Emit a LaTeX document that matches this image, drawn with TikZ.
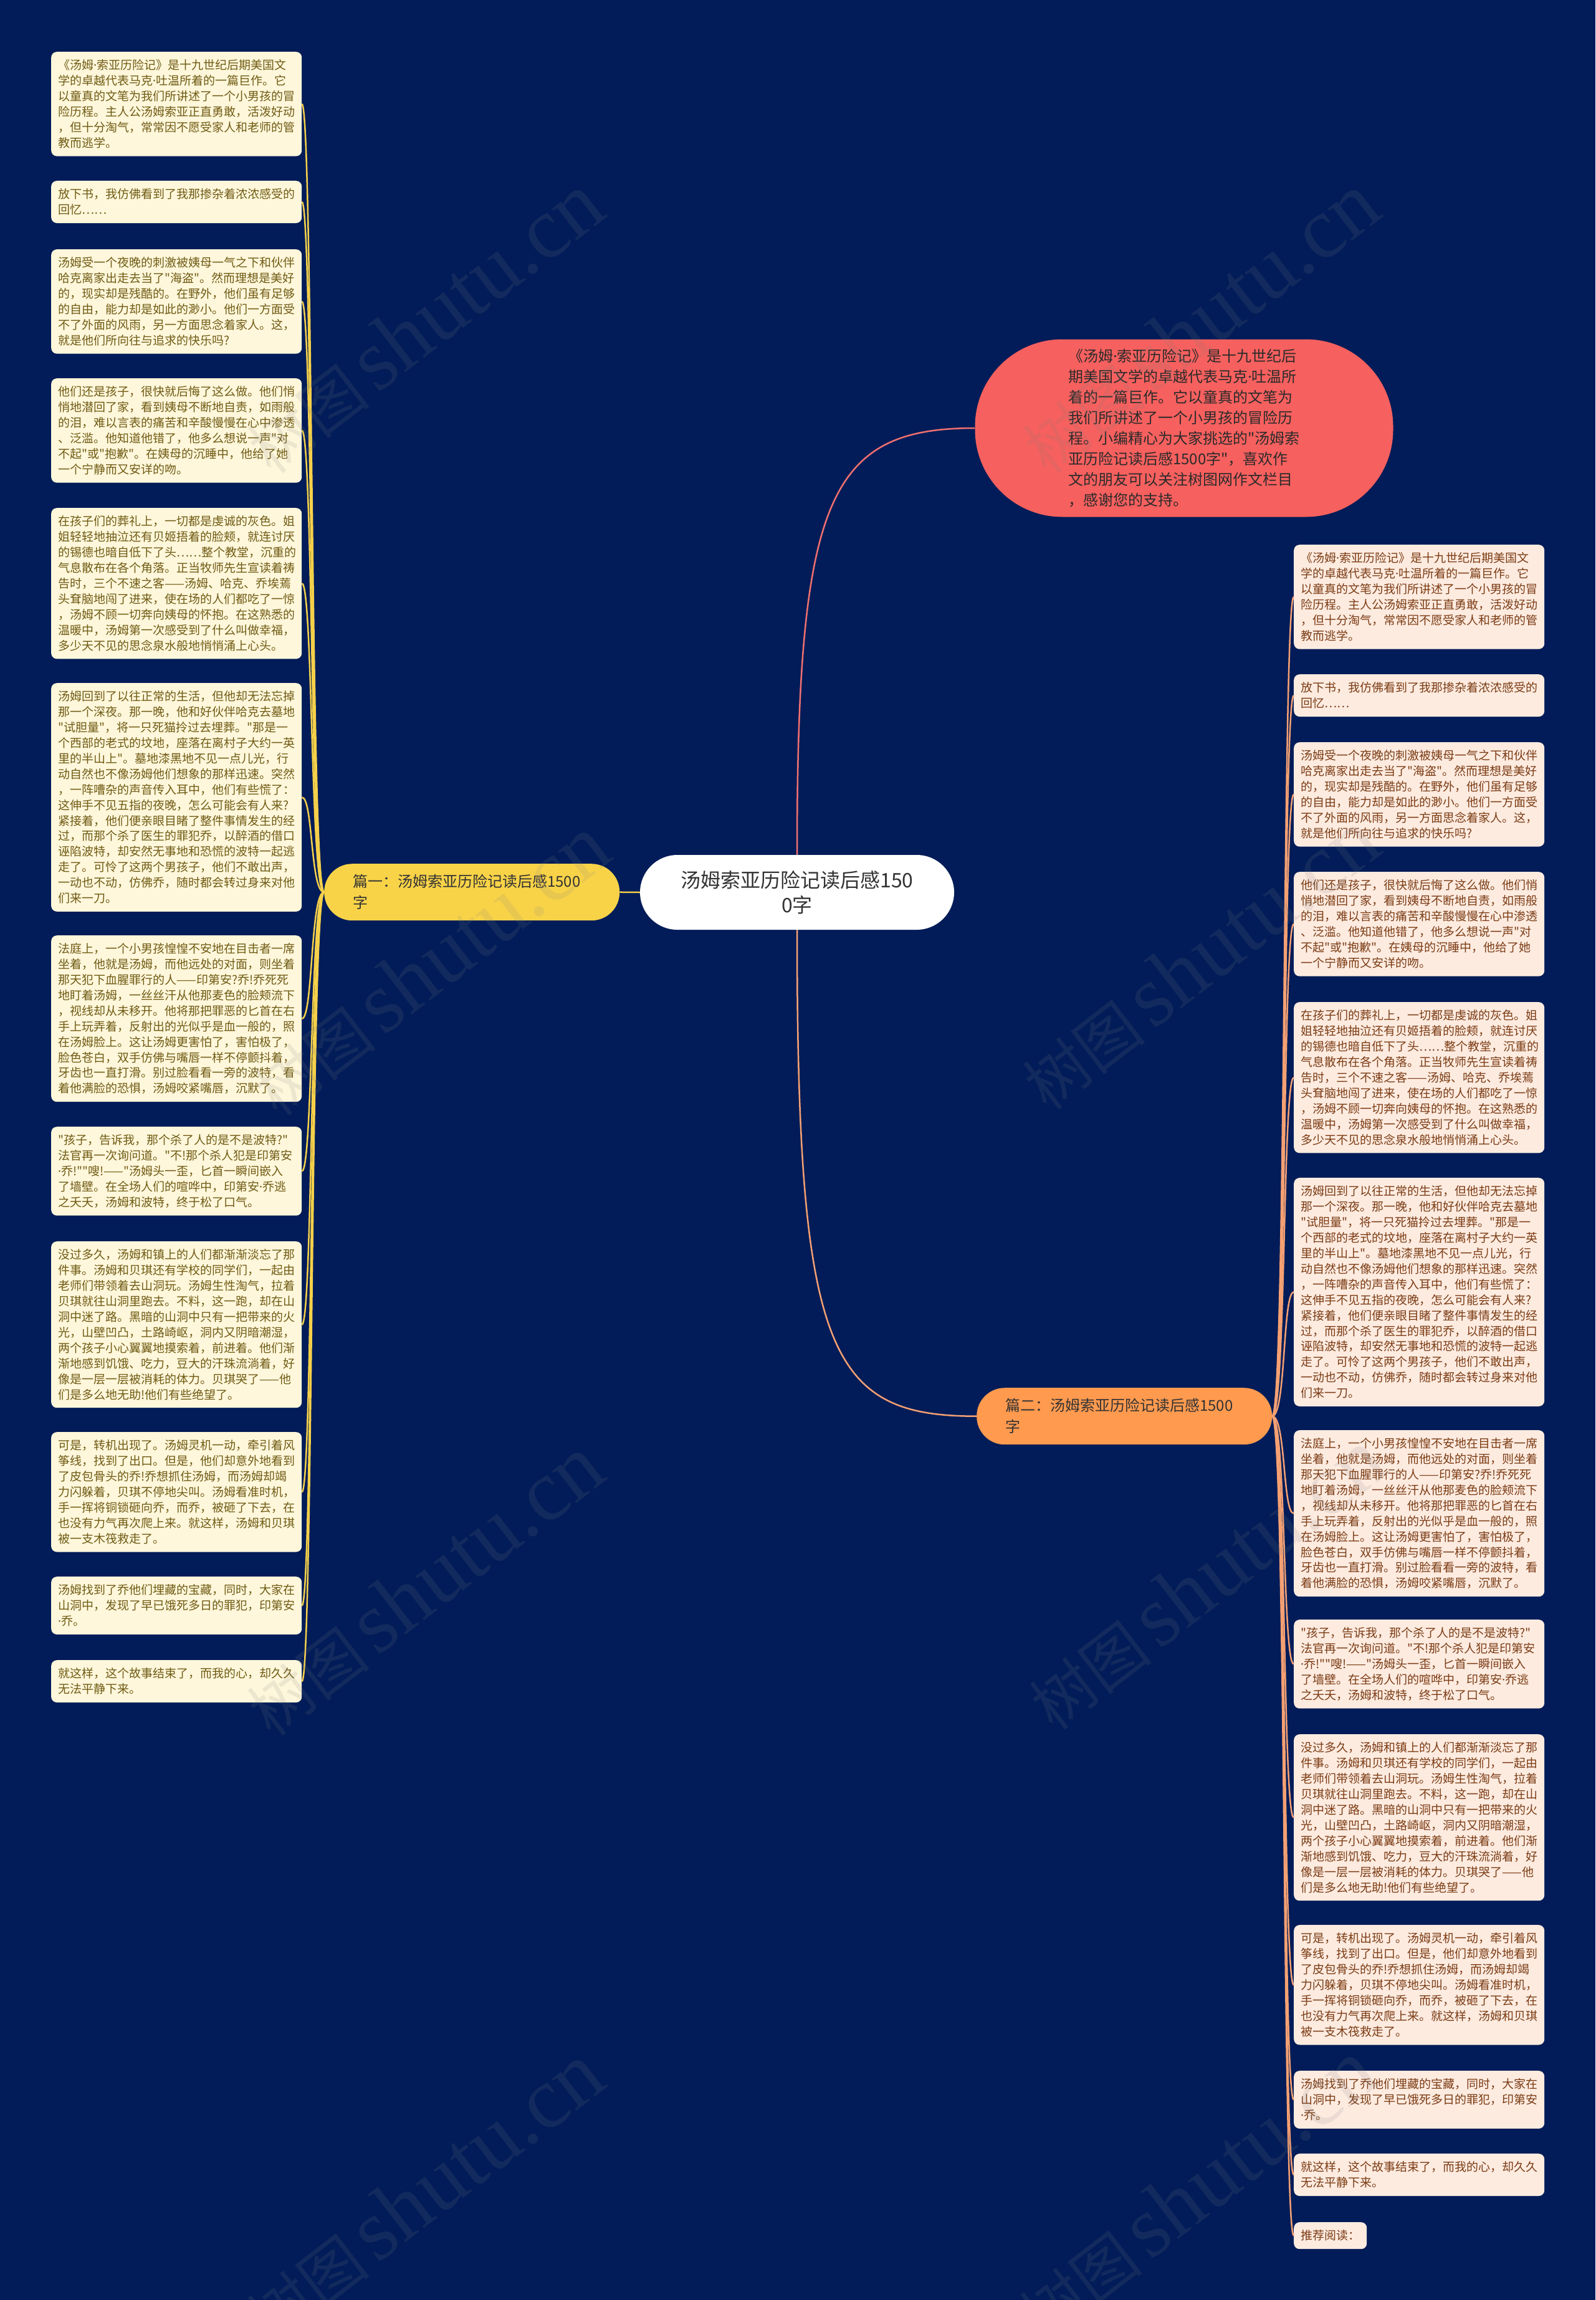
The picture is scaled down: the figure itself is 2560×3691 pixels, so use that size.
\documentclass[tikz,border=0pt]{standalone}
\usepackage{fontspec}
\setmainfont{Noto Sans CJK SC}[Ligatures=TeXOff]
\newfontfamily\wmserif{Liberation Serif}
\newfontfamily\latinf{Noto Sans}
\newcommand{\mdot}{{\latinf ·}}
\definecolor{bgc}{HTML}{011C58}
\definecolor{lfill}{HTML}{FFF7DB}
\definecolor{ltext}{HTML}{6F5B14}
\definecolor{rfill}{HTML}{FDEBE0}
\definecolor{rtext}{HTML}{7B3C14}
\definecolor{yel}{HTML}{F8D348}
\definecolor{ora}{HTML}{FF9A4F}
\definecolor{bub}{HTML}{F6605E}
\definecolor{dark}{HTML}{333333}
\definecolor{ylinec}{HTML}{F5D04A}
\definecolor{olinec}{HTML}{F4A073}
\definecolor{rlinec}{HTML}{F07070}
\newcommand{\mkL}[4]{\node[lbx,minimum height={18+24.9*#3}] (#1) at (82,#2) {#4};}
\newcommand{\mkR}[4]{\node[rbx,minimum height={18+24.9*#3}] (#1) at (2076,#2) {#4};}
\begin{document}
\begin{tikzpicture}[x=1pt,y=-1pt,
  txt/.style={font=\fontsize{19}{24.9}\selectfont, text width=380pt, inner xsep=11pt, inner ysep=0pt, align=left, rounded corners=9pt, anchor=north west},
  lbx/.style={txt, fill=lfill, text=ltext},
  rbx/.style={txt, fill=rfill, text=rtext},
  pill/.style={font=\fontsize{24}{34}\selectfont, text=dark, text width=382pt, inner xsep=46pt, inner ysep=0pt, align=left, minimum width=474pt, minimum height=91pt, rounded corners=45pt, anchor=north west},
  yline/.style={draw=ylinec, line width=2.5pt},
  oline/.style={draw=olinec, line width=2.5pt},
  rline/.style={draw=rlinec, line width=2.5pt},
  wm/.style={text=gray, text opacity=0.14, rotate=37.6, inner sep=0pt}
]
\useasboundingbox (0,0) rectangle (2560,3691);
\fill[bgc] (0,0) rectangle (2560,3691);

% central topic
\node[fill=white, text=dark, font=\fontsize{32}{40}\selectfont, align=center, minimum width=504pt, minimum height=120pt, rounded corners=60pt, inner sep=0pt] (c) at (1279,1432) {汤姆索亚历险记读后感150\\0字};

% intro bubble
\node[fill=bub, text=dark!85!black, font=\fontsize{24}{33}\selectfont, align=left, minimum width=671pt, minimum height=285pt, rounded corners=140pt, inner sep=0pt] (bub) at (1900,687) {《汤姆\mdot 索亚历险记》是十九世纪后\\期美国文学的卓越代表马克\mdot 吐温所\\着的一篇巨作。它以童真的文笔为\\我们所讲述了一个小男孩的冒险历\\程。小编精心为大家挑选的"汤姆索\\亚历险记读后感1500字"，喜欢作\\文的朋友可以关注树图网作文栏目\\，感谢您的支持。};

% branches
\node[pill, fill=yel] (p1) at (520,1386) {篇一：汤姆索亚历险记读后感1500\\字};
\node[pill, fill=ora] (p2) at (1567,2227) {篇二：汤姆索亚历险记读后感1500\\字};

% left boxes
\mkL{L1}{83}{6}{《汤姆\mdot 索亚历险记》是十九世纪后期美国文\\学的卓越代表马克\mdot 吐温所着的一篇巨作。它\\以童真的文笔为我们所讲述了一个小男孩的冒\\险历程。主人公汤姆索亚正直勇敢，活泼好动\\，但十分淘气，常常因不愿受家人和老师的管\\教而逃学。}
\mkL{L2}{290}{2}{放下书，我仿佛看到了我那掺杂着浓浓感受的\\回忆……}
\mkL{L3}{400}{6}{汤姆受一个夜晚的刺激被姨母一气之下和伙伴\\哈克离家出走去当了"海盗"。然而理想是美好\\的，现实却是残酷的。在野外，他们虽有足够\\的自由，能力却是如此的渺小。他们一方面受\\不了外面的风雨，另一方面思念着家人。这，\\就是他们所向往与追求的快乐吗?}
\mkL{L4}{607}{6}{他们还是孩子，很快就后悔了这么做。他们悄\\悄地潜回了家，看到姨母不断地自责，如雨般\\的泪，难以言表的痛苦和辛酸慢慢在心中渗透\\、泛滥。他知道他错了，他多么想说一声"对\\不起"或"抱歉"。在姨母的沉睡中，他给了她\\一个宁静而又安详的吻。}
\mkL{L5}{815}{9}{在孩子们的葬礼上，一切都是虔诚的灰色。姐\\姐轻轻地抽泣还有贝姬捂着的脸颊，就连讨厌\\的锡德也暗自低下了头……整个教堂，沉重的\\气息散布在各个角落。正当牧师先生宣读着祷\\告时，三个不速之客——汤姆、哈克、乔埃蔫\\头耷脑地闯了进来，使在场的人们都吃了一惊\\，汤姆不顾一切奔向姨母的怀抱。在这熟悉的\\温暖中，汤姆第一次感受到了什么叫做幸福，\\多少天不见的思念泉水般地悄悄涌上心头。}
\mkL{L6}{1096}{14}{汤姆回到了以往正常的生活，但他却无法忘掉\\那一个深夜。那一晚，他和好伙伴哈克去墓地\\"试胆量"，将一只死猫拎过去埋葬。"那是一\\个西部的老式的坟地，座落在离村子大约一英\\里的半山上"。墓地漆黑地不见一点儿光，行\\动自然也不像汤姆他们想象的那样迅速。突然\\，一阵嘈杂的声音传入耳中，他们有些慌了：\\这伸手不见五指的夜晚，怎么可能会有人来?\\紧接着，他们便亲眼目睹了整件事情发生的经\\过，而那个杀了医生的罪犯乔，以醉酒的借口\\诬陷波特，却安然无事地和恐慌的波特一起逃\\走了。可怜了这两个男孩子，他们不敢出声，\\一动也不动，仿佛乔，随时都会转过身来对他\\们来一刀。}
\mkL{L7}{1501}{10}{法庭上，一个小男孩惶惶不安地在目击者一席\\坐着，他就是汤姆，而他远处的对面，则坐着\\那天犯下血腥罪行的人——印第安?乔!乔死死\\地盯着汤姆，一丝丝汗从他那麦色的脸颊流下\\，视线却从未移开。他将那把罪恶的匕首在右\\手上玩弄着，反射出的光似乎是血一般的，照\\在汤姆脸上。这让汤姆更害怕了，害怕极了，\\脸色苍白，双手仿佛与嘴唇一样不停颤抖着，\\牙齿也一直打滑。别过脸看看一旁的波特，看\\着他满脸的恐惧，汤姆咬紧嘴唇，沉默了。}
\mkL{L8}{1808}{5}{"孩子，告诉我，那个杀了人的是不是波特?"\\法官再一次询问道。"不!那个杀人犯是印第安\\\mdot 乔!""嗖!——"汤姆头一歪，匕首一瞬间嵌入\\了墙壁。在全场人们的喧哗中，印第安\mdot 乔逃\\之夭夭，汤姆和波特，终于松了口气。}
\mkL{L9}{1992}{10}{没过多久，汤姆和镇上的人们都渐渐淡忘了那\\件事。汤姆和贝琪还有学校的同学们，一起由\\老师们带领着去山洞玩。汤姆生性淘气，拉着\\贝琪就往山洞里跑去。不料，这一跑，却在山\\洞中迷了路。黑暗的山洞中只有一把带来的火\\光，山壁凹凸，土路崎岖，洞内又阴暗潮湿，\\两个孩子小心翼翼地摸索着，前进着。他们渐\\渐地感到饥饿、吃力，豆大的汗珠流淌着，好\\像是一层一层被消耗的体力。贝琪哭了——他\\们是多么地无助!他们有些绝望了。}
\mkL{L10}{2298}{7}{可是，转机出现了。汤姆灵机一动，牵引着风\\筝线，找到了出口。但是，他们却意外地看到\\了皮包骨头的乔!乔想抓住汤姆，而汤姆却竭\\力闪躲着，贝琪不停地尖叫。汤姆看准时机，\\手一挥将铜锁砸向乔，而乔，被砸了下去，在\\也没有力气再次爬上来。就这样，汤姆和贝琪\\被一支木筏救走了。}
\mkL{L11}{2530}{3}{汤姆找到了乔他们埋藏的宝藏，同时，大家在\\山洞中，发现了早已饿死多日的罪犯，印第安\\\mdot 乔。}
\mkL{L12}{2664}{2}{就这样，这个故事结束了，而我的心，却久久\\无法平静下来。}

% right boxes
\mkR{R1}{874}{6}{《汤姆\mdot 索亚历险记》是十九世纪后期美国文\\学的卓越代表马克\mdot 吐温所着的一篇巨作。它\\以童真的文笔为我们所讲述了一个小男孩的冒\\险历程。主人公汤姆索亚正直勇敢，活泼好动\\，但十分淘气，常常因不愿受家人和老师的管\\教而逃学。}
\mkR{R2}{1082}{2}{放下书，我仿佛看到了我那掺杂着浓浓感受的\\回忆……}
\mkR{R3}{1191}{6}{汤姆受一个夜晚的刺激被姨母一气之下和伙伴\\哈克离家出走去当了"海盗"。然而理想是美好\\的，现实却是残酷的。在野外，他们虽有足够\\的自由，能力却是如此的渺小。他们一方面受\\不了外面的风雨，另一方面思念着家人。这，\\就是他们所向往与追求的快乐吗?}
\mkR{R4}{1399}{6}{他们还是孩子，很快就后悔了这么做。他们悄\\悄地潜回了家，看到姨母不断地自责，如雨般\\的泪，难以言表的痛苦和辛酸慢慢在心中渗透\\、泛滥。他知道他错了，他多么想说一声"对\\不起"或"抱歉"。在姨母的沉睡中，他给了她\\一个宁静而又安详的吻。}
\mkR{R5}{1608}{9}{在孩子们的葬礼上，一切都是虔诚的灰色。姐\\姐轻轻地抽泣还有贝姬捂着的脸颊，就连讨厌\\的锡德也暗自低下了头……整个教堂，沉重的\\气息散布在各个角落。正当牧师先生宣读着祷\\告时，三个不速之客——汤姆、哈克、乔埃蔫\\头耷脑地闯了进来，使在场的人们都吃了一惊\\，汤姆不顾一切奔向姨母的怀抱。在这熟悉的\\温暖中，汤姆第一次感受到了什么叫做幸福，\\多少天不见的思念泉水般地悄悄涌上心头。}
\mkR{R6}{1890}{14}{汤姆回到了以往正常的生活，但他却无法忘掉\\那一个深夜。那一晚，他和好伙伴哈克去墓地\\"试胆量"，将一只死猫拎过去埋葬。"那是一\\个西部的老式的坟地，座落在离村子大约一英\\里的半山上"。墓地漆黑地不见一点儿光，行\\动自然也不像汤姆他们想象的那样迅速。突然\\，一阵嘈杂的声音传入耳中，他们有些慌了：\\这伸手不见五指的夜晚，怎么可能会有人来?\\紧接着，他们便亲眼目睹了整件事情发生的经\\过，而那个杀了医生的罪犯乔，以醉酒的借口\\诬陷波特，却安然无事地和恐慌的波特一起逃\\走了。可怜了这两个男孩子，他们不敢出声，\\一动也不动，仿佛乔，随时都会转过身来对他\\们来一刀。}
\mkR{R7}{2295}{10}{法庭上，一个小男孩惶惶不安地在目击者一席\\坐着，他就是汤姆，而他远处的对面，则坐着\\那天犯下血腥罪行的人——印第安?乔!乔死死\\地盯着汤姆，一丝丝汗从他那麦色的脸颊流下\\，视线却从未移开。他将那把罪恶的匕首在右\\手上玩弄着，反射出的光似乎是血一般的，照\\在汤姆脸上。这让汤姆更害怕了，害怕极了，\\脸色苍白，双手仿佛与嘴唇一样不停颤抖着，\\牙齿也一直打滑。别过脸看看一旁的波特，看\\着他满脸的恐惧，汤姆咬紧嘴唇，沉默了。}
\mkR{R8}{2599}{5}{"孩子，告诉我，那个杀了人的是不是波特?"\\法官再一次询问道。"不!那个杀人犯是印第安\\\mdot 乔!""嗖!——"汤姆头一歪，匕首一瞬间嵌入\\了墙壁。在全场人们的喧哗中，印第安\mdot 乔逃\\之夭夭，汤姆和波特，终于松了口气。}
\mkR{R9}{2783}{10}{没过多久，汤姆和镇上的人们都渐渐淡忘了那\\件事。汤姆和贝琪还有学校的同学们，一起由\\老师们带领着去山洞玩。汤姆生性淘气，拉着\\贝琪就往山洞里跑去。不料，这一跑，却在山\\洞中迷了路。黑暗的山洞中只有一把带来的火\\光，山壁凹凸，土路崎岖，洞内又阴暗潮湿，\\两个孩子小心翼翼地摸索着，前进着。他们渐\\渐地感到饥饿、吃力，豆大的汗珠流淌着，好\\像是一层一层被消耗的体力。贝琪哭了——他\\们是多么地无助!他们有些绝望了。}
\mkR{R10}{3089}{7}{可是，转机出现了。汤姆灵机一动，牵引着风\\筝线，找到了出口。但是，他们却意外地看到\\了皮包骨头的乔!乔想抓住汤姆，而汤姆却竭\\力闪躲着，贝琪不停地尖叫。汤姆看准时机，\\手一挥将铜锁砸向乔，而乔，被砸了下去，在\\也没有力气再次爬上来。就这样，汤姆和贝琪\\被一支木筏救走了。}
\mkR{R11}{3323}{3}{汤姆找到了乔他们埋藏的宝藏，同时，大家在\\山洞中，发现了早已饿死多日的罪犯，印第安\\\mdot 乔。}
\mkR{R12}{3456}{2}{就这样，这个故事结束了，而我的心，却久久\\无法平静下来。}
\node[rbx, text width=, minimum height=43pt] (R13) at (2076,3566) {推荐阅读：};

% connectors
\draw[yline] (c.west) -- (p1.east);
\draw[rline] (c.north) .. controls +(0,-572) and +(-235,0) .. (bub.west);
\draw[oline] (c.south) .. controls +(0,680) and +(-237,0) .. (p2.west);
\foreach \n in {L1,L2,L3,L4,L5,L6,L7,L8,L9,L10,L11,L12}
  \draw[yline] (p1.west) .. controls +(-22,0) and +(18,0) .. (\n.east);
\foreach \n in {R1,R2,R3,R4,R5,R6,R7,R8,R9,R10,R11,R12,R13}
  \draw[oline] (p2.east) .. controls +(22,0) and +(-18,0) .. (\n.west);

% watermarks
\foreach \i/\wx/\wy in {1/680/519, 2/690/1550, 3/680/2545, 4/680/3520, 5/1925/519, 6/1925/1540, 7/1935/2535, 8/1920/3515}
  \node[wm] (w\i) at (\wx,\wy) {\fontsize{100}{100}\selectfont 树图\hspace{14pt}{\wmserif\fontsize{140}{140}\selectfont shutu.cn}};
\end{tikzpicture}
\end{document}
